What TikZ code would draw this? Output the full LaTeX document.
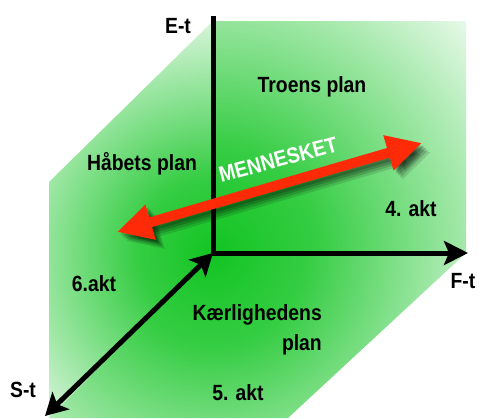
\documentclass[tikz,border=0pt]{standalone}
\usepackage{fontspec}
\setmainfont{Liberation Sans}[FakeStretch=0.88]
\usetikzlibrary{arrows.meta}
\definecolor{planegreen}{RGB}{18,196,34}
\definecolor{arrowred}{RGB}{255,42,8}
\colorlet{planemid}{planegreen!85!white}
\pgfdeclareradialshading{planefade}{\pgfpoint{0bp}{0bp}}{color(0bp)=(planegreen); color(7bp)=(planemid); color(25bp)=(white); color(50bp)=(white)}

\begin{document}
\begin{tikzpicture}[x=1pt,y=-1pt,font=\bfseries\fontsize{22}{30}\selectfont,
    axisline/.style={line width=5pt,line cap=butt,miter limit=4},
    manarrow/.style={line width=10pt,{Triangle[length=35pt,width=34pt]}-{Triangle[length=35pt,width=34pt]}}]
  \useasboundingbox (0,0) rectangle (479,418);
  \coordinate (O) at (213,253);
  \coordinate (E) at (213,16);
  \coordinate (F) at (468,253);
  \coordinate (S) at (45,416);
  % the three planes, each fading out from the corner
  \foreach \face/\r in {{(213,21) -- (466,21) -- (466,253) -- (213,253)}/375,
                        {(213,21) -- (213,253) -- (49,418) -- (49,182)}/270,
                        {(213,253) -- (466,253) -- (288,418) -- (49,418)}/335} {
    \begin{scope}
      \clip \face -- cycle;
      \shade[shading=planefade] (O) circle (\r);
    \end{scope}
  }
  % axes
  \draw[axisline,-{Stealth[length=24pt,width=24pt,inset=5pt]}] (E) -- (O) -- (F);
  \draw[axisline,{Stealth[length=22pt,width=24pt,inset=5pt]}-{Stealth[length=22pt,width=24pt,inset=5pt]}] (O) -- (S);
  % the man, with a soft shadow
  \coordinate (man-l) at (117,232);
  \coordinate (man-r) at (422,143);
  \foreach \d/\o in {3/0.18,5/0.18,7/0.15,9/0.12}
    \draw[manarrow,black,opacity=\o,transform canvas={shift={(\d,\d)}}] (man-l) -- (man-r);
  \draw[manarrow,arrowred] (man-l) -- (man-r);
  \node[anchor=base,rotate=15,text=white] (man-text) at (280,167) {MENNESKET};
  % labels
  \foreach \n/\x/\y/\txt in {et/178/33/E-t, troens/312/92/Troens plan, haabets/142/170/Håbets plan,
                             akt4/411/216/4. akt, akt6/94/291/6.akt, akt5/238/400/5. akt,
                             st/23/397/S-t, ft/463/288/F-t}
    \node[anchor=base,inner sep=0pt] (\n) at (\x,\y) {\txt};
  \node[anchor=east,align=right,inner sep=0pt] (kaerlighed) at (322,330) {Kærlighedens\\plan};
\end{tikzpicture}
\end{document}
